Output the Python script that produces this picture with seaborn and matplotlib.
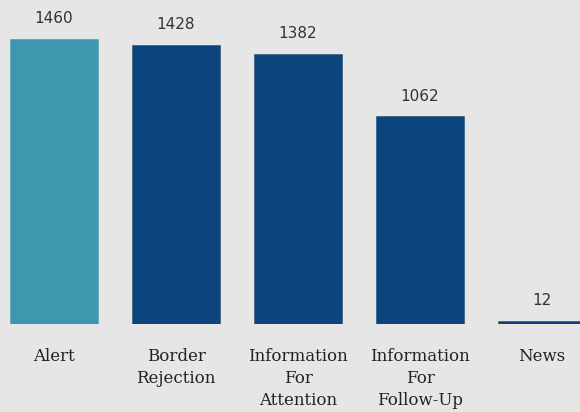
import matplotlib.pyplot as plt
import seaborn as sns
import pandas as pd

categories = ["Alert", "Border\nRejection", "Information\nFor\nAttention",
              "Information\nFor\nFollow-Up", "News"]
counts = [1460, 1428, 1382, 1062, 12]
bar_colors = ["#3d98ad", "#0b457b", "#0b457b", "#0b457b", "#0b457b"]

df = pd.DataFrame({"category": categories, "count": counts})

sns.set_style("white")
fig = plt.figure(figsize=(5.8, 4.12), dpi=100)
fig.patch.set_facecolor("#e6e6e6")
ax = fig.add_axes([0, 88 / 412, 1, 324 / 412])
ax.set_facecolor("#e6e6e6")

sns.barplot(data=df, x="category", y="count", hue="category", palette=bar_colors,
            width=0.70, legend=False, ax=ax, saturation=1, linewidth=0)

# thin bars still need to show, so give each bar an edge in its own colour
for patch, c in zip(ax.patches, bar_colors):
    patch.set_edgecolor(c)
    patch.set_linewidth(1.8)

for i, v in enumerate(counts):
    ax.annotate(str(v), (i, v), xytext=(0, 10), textcoords="offset points",
                ha="center", va="bottom", fontsize=11, color="#333333",
                family="DejaVu Sans")

ax.set_xlim(-54 / 122, 526 / 122)
ax.set_ylim(0, 1666)
ax.set_xlabel("")
ax.set_ylabel("")
ax.set_yticks([])
ax.tick_params(axis="x", length=0, pad=17)
for lbl in ax.get_xticklabels():
    lbl.set_fontfamily("DejaVu Serif")
    lbl.set_fontsize(12)
    lbl.set_linespacing(1.4)
    lbl.set_verticalalignment("top")
    lbl.set_color("#222222")
sns.despine(ax=ax, left=True, bottom=True)

fig.savefig("out.png", dpi=100, facecolor=fig.get_facecolor())
